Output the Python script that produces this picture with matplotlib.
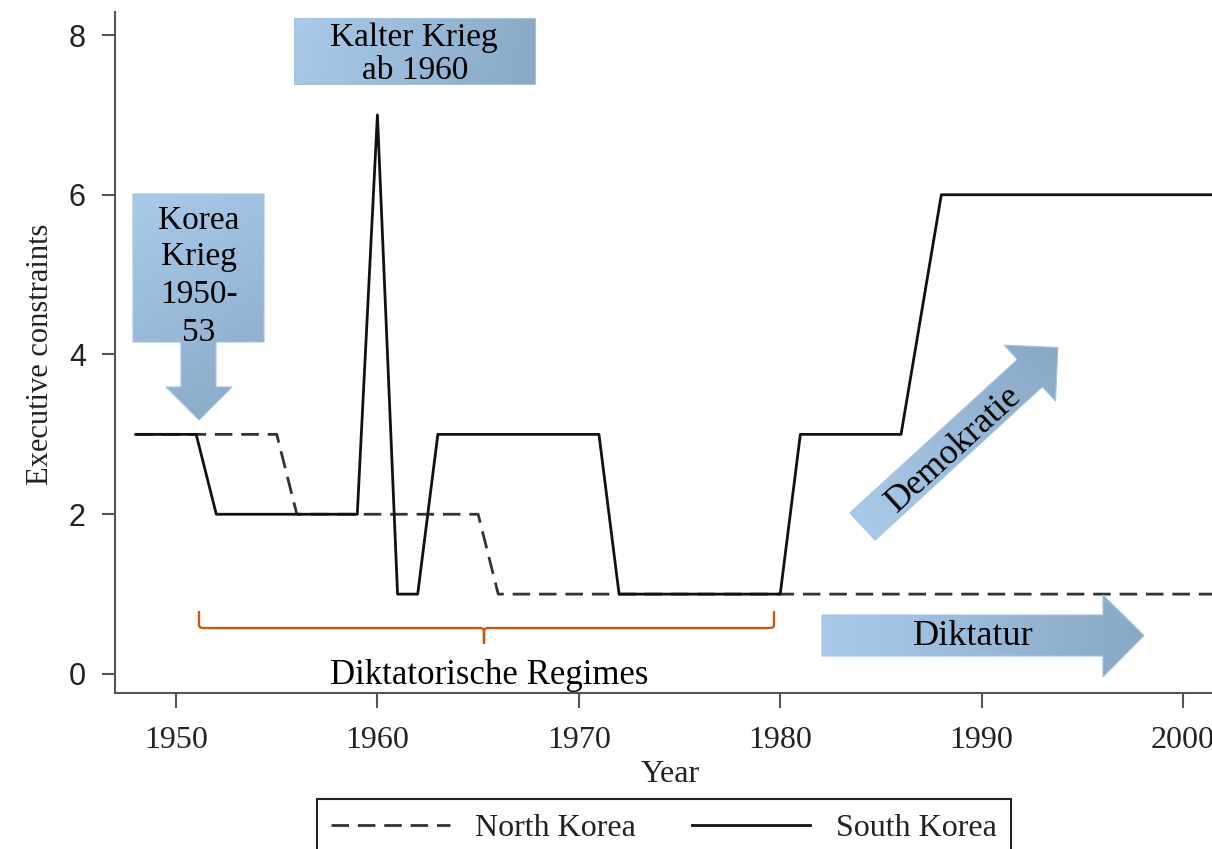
import numpy as np
import matplotlib
matplotlib.use('Agg')
import matplotlib.pyplot as plt
from matplotlib.patches import Polygon, PathPatch
from matplotlib.path import Path
from matplotlib.colors import LinearSegmentedColormap
from matplotlib.font_manager import FontProperties

# ---------------- data ----------------
nk_years = [1948, 1955, 1956, 1965, 1966, 2002]
nk_values = [3, 3, 2, 2, 1, 1]
sk_years = [1948, 1951, 1952, 1959, 1960, 1961, 1962, 1963, 1971, 1972,
            1980, 1981, 1986, 1988, 2002]
sk_values = [3, 3, 2, 2, 7, 1, 1, 3, 3, 1, 1, 3, 3, 6, 6]
x_ticks = [1950, 1960, 1970, 1980, 1990, 2000]
y_ticks = [0, 2, 4, 6, 8]
series_labels = ['North Korea', 'South Korea']
x_label = 'Year'
y_label = 'Executive constraints'

W, H = 1212, 849
SERIF = 'Liberation Serif'
SANS = 'Liberation Sans'

fig = plt.figure(figsize=(W / 100, H / 100), dpi=100)
ax = fig.add_axes([115 / W, 1 - 693 / H, (W - 115) / W, (693 - 12) / H])

l_nk, = ax.plot(nk_years, nk_values, color='#333333', lw=2.0, dashes=(6.3, 3.2))
l_sk, = ax.plot(sk_years, sk_values, color='#111111', lw=2.0)

ax.set_xlim(1946.97, 2001.44)
ax.set_ylim(-0.238, 8.288)
for s in ['top', 'right']:
    ax.spines[s].set_visible(False)
for s in ['left', 'bottom']:
    ax.spines[s].set_color('#555555')
    ax.spines[s].set_linewidth(1.5)

ax.set_xticks(x_ticks)
ax.set_yticks(y_ticks)
ax.tick_params(axis='y', direction='out', length=9.5, width=1.5, color='#555555',
               pad=11.5, labelsize=22, labelcolor='#222222')
ax.tick_params(axis='x', direction='out', length=10.5, width=1.5, color='#555555',
               pad=13, labelsize=23, labelcolor='#222222')
for lab in ax.get_yticklabels():
    lab.set_fontfamily(SANS)
for lab in ax.get_xticklabels():
    lab.set_fontfamily(SERIF)

ax.set_xlabel(x_label, fontsize=23, family=SERIF, color='#222222')
ax.xaxis.set_label_coords(0.506, -0.098)
ax.set_ylabel(y_label, fontsize=22, family=SERIF, color='#222222')
ax.yaxis.set_label_coords(-0.055, 0.498)

leg = fig.legend(handles=[l_nk, l_sk], labels=series_labels, loc='upper left',
                 bbox_to_anchor=(317 / W, 1 - 799 / H), ncol=2, frameon=True,
                 fancybox=False, edgecolor='#222222', framealpha=1,
                 prop=FontProperties(family=SERIF, size=23),
                 handlelength=3.7, handletextpad=0.8, columnspacing=1.75,
                 borderpad=0.45, borderaxespad=0)
leg.get_frame().set_linewidth(1.5)
for t in leg.get_texts():
    t.set_color('#222222')

# ---------------- annotation overlay (pixel coordinates) ----------------
oax = fig.add_axes([0, 0, 1, 1], zorder=5)
oax.set_xlim(0, W)
oax.set_ylim(H, 0)
oax.axis('off')
oax.patch.set_alpha(0)

C0, C1 = '#a9cbea', '#88a8c5'
cmap = LinearSegmentedColormap.from_list('g', [C0, C1])


def grad_shape(verts, p0, p1):
    verts = np.asarray(verts, dtype=float)
    poly = Polygon(verts, closed=True, facecolor='none', edgecolor='#a3c3e0',
                   lw=0.8, transform=oax.transData, zorder=6)
    oax.add_patch(poly)
    xmin, ymin = verts.min(0)
    xmax, ymax = verts.max(0)
    xs = np.linspace(xmin, xmax, 300)
    ys = np.linspace(ymin, ymax, 300)
    X, Y = np.meshgrid(xs, ys)
    d = np.array(p1, float) - np.array(p0, float)
    t = ((X - p0[0]) * d[0] + (Y - p0[1]) * d[1]) / (d @ d)
    t = np.clip(t, 0, 1)
    im = oax.imshow(t, extent=(xmin, xmax, ymin, ymax), origin='lower', cmap=cmap,
                    vmin=0, vmax=1, aspect='auto', zorder=5, interpolation='bilinear')
    im.set_clip_path(poly)


# Kalter Krieg box
grad_shape([(294, 18), (535, 18), (535, 84), (294, 84)], (294, 18), (535, 84))
oax.text(414, 46, 'Kalter Krieg', ha='center', va='baseline', fontsize=24,
         family=SERIF, color='black', zorder=7)
oax.text(415, 79, 'ab 1960', ha='center', va='baseline', fontsize=24,
         family=SERIF, color='black', zorder=7)

# Korea Krieg down-arrow callout
grad_shape([(133, 194), (264, 194), (264, 342), (216, 342), (216, 387), (232, 387),
            (199, 420), (166, 387), (181, 387), (181, 342), (133, 342)],
           (133, 194), (264, 420))
for txt, yb in zip(['Korea', 'Krieg', '1950-', '53'], [229, 265, 303, 341]):
    oax.text(199, yb, txt, ha='center', va='baseline', fontsize=24,
             family=SERIF, color='black', zorder=7)

# Demokratie diagonal arrow
T = np.array([862.5, 526.5])
th = np.deg2rad(42.5)
u = np.array([np.cos(th), -np.sin(th)])
n = np.array([np.sin(th), np.cos(th)])
L, hl, w, hw = 265, 38, 37, 76
B = T + u * (L - hl)
dverts = [T - n * w / 2, B - n * w / 2, B - n * hw / 2, T + u * L,
          B + n * hw / 2, B + n * w / 2, T + n * w / 2]
grad_shape(dverts, T, T + u * L)
oax.text(954, 449, 'Demokratie', rotation=42.5, rotation_mode='anchor',
         ha='center', va='center', fontsize=26, family=SERIF, color='black', zorder=7)

# Diktatur right arrow
grad_shape([(822, 615), (1103, 615), (1103, 595), (1144, 635.5), (1103, 677),
            (1103, 656), (822, 656)], (822, 635), (1144, 635))
oax.text(973, 645, 'Diktatur', ha='center', va='baseline', fontsize=26,
         family=SERIF, color='black', zorder=7)

# orange brace
verts = [(199, 612), (199, 625), (199, 628), (203, 628), (480, 628),
         (484, 628), (484, 632), (484, 643), (484, 632), (484, 628), (488, 628),
         (770, 628), (774, 628), (774, 625), (774, 612)]
codes = [Path.MOVETO, Path.LINETO, Path.CURVE3, Path.CURVE3, Path.LINETO,
         Path.CURVE3, Path.CURVE3, Path.LINETO, Path.LINETO, Path.CURVE3, Path.CURVE3,
         Path.LINETO, Path.CURVE3, Path.CURVE3, Path.LINETO]
oax.add_patch(PathPatch(Path(verts, codes), facecolor='none', edgecolor='#c55a11',
                        lw=1.7, zorder=6, capstyle='round', joinstyle='round'))
oax.text(489, 684, 'Diktatorische Regimes', ha='center', va='baseline', fontsize=25,
         family=SERIF, color='black', zorder=7)

oax.set_xlim(0, W)
oax.set_ylim(H, 0)

fig.savefig('out.png', dpi=100)
